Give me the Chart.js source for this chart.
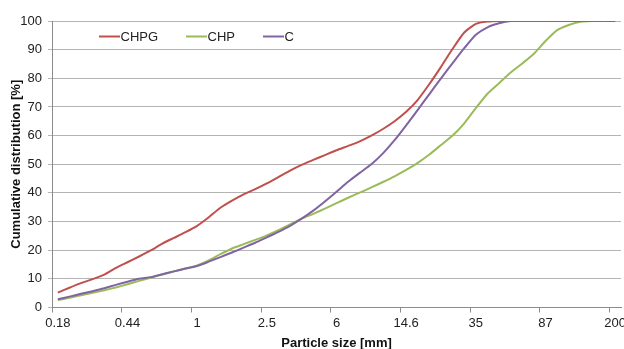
<!DOCTYPE html>
<html>
<head>
<meta charset="utf-8">
<script src="https://cdn.jsdelivr.net/npm/chart.js@4"></script>
<style>
  html, body { margin: 0; padding: 0; background: #fff; }
  #wrap { width: 624px; height: 349px; }
</style>
</head>
<body>
<div id="wrap"><canvas id="chart"></canvas></div>
<script>
// sieve classes shown on the axis (one label every 6 classes)
const sizeLabels = ['0.18', '0.44', '1', '2.5', '6', '14.6', '35', '87', '200'];
const classCount = 49;
const labelStep = 6;

// cumulative distribution [%] for each sieve class
const chpg = [5.2, 6.9, 8.5, 9.9, 11.5, 13.8, 15.8, 17.8, 19.9, 22.3,
  24.3, 26.3, 28.5, 31.5, 34.8, 37.3, 39.5, 41.3, 43.3, 45.5,
  47.8, 49.8, 51.5, 53.2, 54.9, 56.4, 58.0, 60.0, 62.3, 65.0,
  68.3, 72.5, 78.0, 84.0, 90.3, 96.0, 99.0, 99.8, 100, 100,
  100, 100, 100, 100, 100, 100, 100, 100, 100];
const chp = [2.6, 3.4, 4.3, 5.1, 6.0, 7.0, 8.1, 9.3, 10.4, 11.5,
  12.6, 13.6, 14.7, 16.4, 18.6, 20.6, 22.1, 23.6, 25.2, 27.0,
  29.0, 31.0, 32.7, 34.5, 36.4, 38.3, 40.1, 41.9, 43.8, 45.8,
  48.0, 50.5, 53.4, 56.7, 60.0, 64.3, 69.6, 74.6, 78.3, 82.0,
  85.2, 88.6, 93.0, 96.8, 98.6, 99.7, 100, 100, null];
const c = [2.9, 3.8, 4.8, 5.7, 6.7, 7.9, 9.0, 10.0, 10.6, 11.6,
  12.6, 13.6, 14.5, 16.0, 17.6, 19.2, 20.9, 22.6, 24.5, 26.4,
  28.5, 31.0, 33.8, 37.0, 40.4, 43.9, 47.0, 50.0, 53.8, 58.4,
  63.6, 69.0, 74.5, 80.0, 85.3, 90.5, 95.2, 97.8, 99.2, 100,
  100, 100, 100, 100, 100, 100, 100, 100, null];

const fontFamily = "'Liberation Sans', Arial, sans-serif";

function toPoints(values) {
  return values.map((v, i) => ({ x: i, y: v }));
}

// legend drawn inside the plot area, like the original
const innerLegend = {
  id: 'innerLegend',
  afterDatasetsDraw(chart) {
    const ctx = chart.ctx;
    const xs = [99, 186, 263];
    const y = 36.5;
    ctx.save();
    ctx.font = '13px ' + fontFamily;
    ctx.textBaseline = 'middle';
    ctx.fillStyle = '#222';
    chart.data.datasets.forEach((ds, i) => {
      ctx.strokeStyle = ds.borderColor;
      ctx.lineWidth = 2;
      ctx.beginPath();
      ctx.moveTo(xs[i], y);
      ctx.lineTo(xs[i] + 21, y);
      ctx.stroke();
      ctx.fillText(ds.label, xs[i] + 21.5, y + 0.5);
    });
    ctx.restore();
  }
};

const ctx = document.getElementById('chart').getContext('2d');
const chart = new Chart(ctx, {
  type: 'line',
  data: {
    datasets: [{
      label: 'CHPG',
      data: toPoints(chpg),
      borderColor: '#C0504D',
      borderWidth: 2,
      order: 3
    },
    {
      label: 'CHP',
      data: toPoints(chp),
      borderColor: '#9BBB59',
      borderWidth: 2,
      order: 2
    },
    {
      label: 'C',
      data: toPoints(c),
      borderColor: '#8064A2',
      borderWidth: 2,
      order: 1
    }]
  },
  options: {
    responsive: true,
    maintainAspectRatio: false,
    animation: false,
    layout: { padding: { top: 21, right: 3, left: 0, bottom: 0 } },
    elements: {
      point: { radius: 0 },
      line: { tension: 0.2, fill: false }
    },
    plugins: {
      legend: { display: false },
      tooltip: { enabled: false }
    },
    scales: {
      x: {
        type: 'linear',
        min: -0.5,
        max: classCount - 0.5,
        afterBuildTicks: (axis) => {
          axis.ticks = sizeLabels.map((s, k) => ({ value: k * labelStep - 0.5 }));
        },
        afterFit: (scale) => { scale.height = 41.5; },
        grid: {
          drawOnChartArea: false,
          tickLength: 5,
          color: '#8c8c8c'
        },
        border: { display: true, color: '#8c8c8c' },
        ticks: {
          autoSkip: false,
          maxRotation: 0,
          padding: 3,
          labelOffset: 5.8,
          color: '#222',
          font: { family: fontFamily, size: 13 },
          callback: (value) => sizeLabels[Math.round((value + 0.5) / labelStep)]
        },
        title: {
          display: true,
          text: 'Particle size [mm]',
          color: '#111',
          padding: { top: 0, bottom: -2 },
          font: { family: fontFamily, size: 13, weight: 'bold' }
        }
      },
      y: {
        min: 0,
        max: 100,
        afterFit: (scale) => { scale.width = 52; },
        grid: {
          color: '#b4b4b4',
          tickLength: 4
        },
        border: { display: true, color: '#8c8c8c' },
        ticks: {
          stepSize: 10,
          padding: 6,
          color: '#222',
          font: { family: fontFamily, size: 13 }
        },
        title: {
          display: true,
          text: 'Cumulative distribution [%]',
          color: '#111',
          padding: { top: 9, bottom: 0 },
          font: { family: fontFamily, size: 13, weight: 'bold' }
        }
      }
    }
  },
  plugins: [innerLegend]
});
</script>
</body>
</html>
